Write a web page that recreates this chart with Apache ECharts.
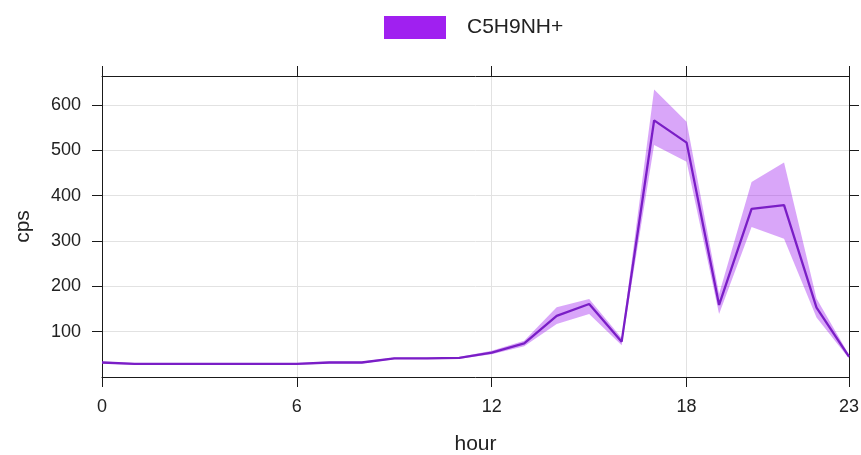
<!DOCTYPE html>
<html>
<head>
<meta charset="utf-8">
<script src="https://cdn.jsdelivr.net/npm/echarts@6/dist/echarts.min.js"></script>
<style>html,body{margin:0;padding:0;background:#fff;}#c{width:861px;height:455px;}</style>
</head>
<body>
<div id="c"></div>
<script>
const hours = [0,1,2,3,4,5,6,7,8,9,10,11,12,13,14,15,16,17,18,19,20,21,22,23];
const meanCps  = [32,29,29,29,29,29,29,32,32,41,41,42,54,74,135,161,78,566,517,159,371,379,153,45];
const lowerCps = [30,27,27,27,27,27,27,30,30,39,39,40,50,68,117,139,70,512,475,139,331,305,131,41];
const upperCps = [34,31,31,31,31,31,31,34,34,43,43,44,58,80,154,172,86,634,563,183,430,473,173,49];
const xTicks = [0,6,12,18,23];
const yTicks = [100,200,300,400,500,600];
const seriesName = 'C5H9NH+';

const FONT = "'Liberation Sans', Arial, sans-serif";
const chart = echarts.init(document.getElementById('c'), null, {renderer:'canvas'});

function axisCommon(showLabel, ticks, margin) {
  return {
    axisLine: {show: true, onZero: false, lineStyle: {color: '#1a1a1a', width: 1}},
    axisTick: {show: true, inside: false, length: 10, customValues: ticks, lineStyle: {color: '#1a1a1a', width: 1}},
    axisLabel: {show: showLabel, customValues: ticks, fontFamily: FONT, fontSize: 18, color: '#222', margin: margin},
  };
}

const bandData = hours.map((h, i) => [h, lowerCps[i], upperCps[i]]);

const option = {
  backgroundColor: '#fff',
  animation: false,
  grid: {left: 102, right: 12, top: 76, bottom: 78, containLabel: false, outerBoundsMode: 'none'},
  legend: {
    left: 379, top: 11,
    itemWidth: 62, itemHeight: 23,
    textStyle: {fontFamily: FONT, fontSize: 21, color: '#222', padding: [0,0,0,16]},
    data: [{name: seriesName, icon: 'rect', itemStyle: {color: '#A020F0'}}]
  },
  xAxis: [
    Object.assign({
      type: 'value', position: 'bottom', min: 0, max: 23, interval: 6,
      name: 'hour', nameLocation: 'middle', nameGap: 57,
      nameTextStyle: {fontFamily: FONT, fontSize: 21, color: '#222'},
      splitLine: {show: true, lineStyle: {color: '#e2e2e2', width: 1}}
    }, axisCommon(true, xTicks, 21)),
    Object.assign({
      type: 'value', position: 'top', min: 0, max: 23, interval: 6,
      splitLine: {show: false}
    }, axisCommon(false, xTicks, 21))
  ],
  yAxis: [
    Object.assign({
      type: 'value', position: 'left', min: 0, max: 664, interval: 100,
      name: 'cps', nameLocation: 'middle', nameGap: 68, nameRotate: 90,
      nameTextStyle: {fontFamily: FONT, fontSize: 21, color: '#222'},
      splitLine: {show: true, lineStyle: {color: '#e2e2e2', width: 1}}
    }, axisCommon(true, yTicks, 21)),
    Object.assign({
      type: 'value', position: 'right', min: 0, max: 664, interval: 100,
      splitLine: {show: false}
    }, axisCommon(false, yTicks, 21))
  ],
  series: [
    {
      name: 'band', type: 'custom', silent: true, clip: true,
      data: bandData,
      renderItem: function (params, api) {
        if (params.dataIndex !== 0) return null;
        const pts = [];
        for (let i = 0; i < bandData.length; i++) pts.push(api.coord([bandData[i][0], bandData[i][1]]));
        for (let i = bandData.length - 1; i >= 0; i--) pts.push(api.coord([bandData[i][0], bandData[i][2]]));
        return {
          type: 'polygon',
          shape: {points: pts},
          style: {fill: 'rgba(160,32,240,0.40)', stroke: null}
        };
      }
    },
    {
      name: seriesName, type: 'line', symbol: 'none',
      lineStyle: {color: '#7A1EC6', width: 2.3},
      itemStyle: {color: '#A020F0'},
      data: hours.map((h, i) => [h, meanCps[i]])
    }
  ]
};
chart.setOption(option);
</script>
</body>
</html>
